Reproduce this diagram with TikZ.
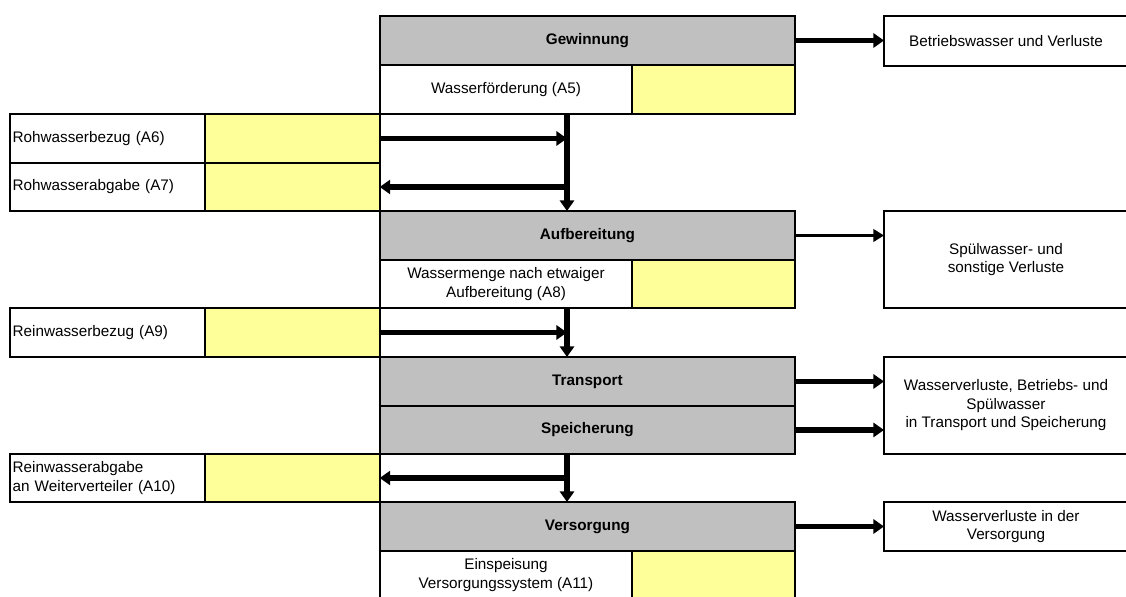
\documentclass[tikz,border=0pt]{standalone}
\usepackage{fontspec}
\setmainfont{Liberation Sans}
\usepackage{tikz}
\usetikzlibrary{arrows.meta,positioning}
\usepackage{xcolor}
\definecolor{wgray}{RGB}{192,192,192}
\definecolor{wyellow}{RGB}{255,255,153}
\tikzstyle{cell} = [rectangle, draw, line width=1.3pt, inner sep=1.5pt, outer sep=0pt, anchor=north west, align=center, font=\fontsize{8.7}{10.5}\selectfont]
\tikzstyle{stage} = [cell, fill=wgray, minimum width=8.3cm, minimum height=0.98cm, font=\fontsize{8.7}{10.5}\selectfont\bfseries]
\tikzstyle{value} = [cell, fill=wyellow]
\tikzstyle{sidebox} = [cell, align=left, text width=3.79cm]
\tikzstyle{lossbox} = [cell, minimum width=4.88cm]
\tikzstyle{flow} = [line width=3.2pt, -{Triangle[length=6pt,width=8pt]}]
\tikzstyle{thinflow} = [line width=2pt, -{Triangle[length=6pt,width=7pt]}]

\begin{document}
\begin{tikzpicture}[x=0.02cm, y=-0.02cm]
\useasboundingbox (0,0) rectangle (1126,597);
% Stages
\node (gew) [stage] at (380,16) {Gewinnung};
\node (foerd) [cell, minimum width=5.04cm, minimum height=0.98cm, below right=0pt of gew.south west] {Wasserförderung (A5)};
\node (foerdval) [value, minimum width=3.26cm, minimum height=0.98cm, right=0pt of foerd] {};

\node (aufb) [stage] at (380,211) {Aufbereitung};
\node (menge) [cell, minimum width=5.04cm, minimum height=0.96cm, below right=0pt of aufb.south west] {Wassermenge nach etwaiger\\Aufbereitung (A8)};
\node (mengeval) [value, minimum width=3.26cm, minimum height=0.96cm, right=0pt of menge] {};

\node (trans) [stage] at (380,357) {Transport};
\node (speich) [stage, minimum height=0.96cm, below right=0pt of trans.south west] {Speicherung};

\node (vers) [stage] at (380,502) {Versorgung};
\node (einsp) [cell, minimum width=5.04cm, minimum height=0.96cm, below right=0pt of vers.south west] {Einspeisung\\Versorgungssystem (A11)};
\node (einspval) [value, minimum width=3.26cm, minimum height=0.96cm, right=0pt of einsp] {};

% Bezug und Abgabe
\node (bezA6) [sidebox, minimum height=0.98cm] at (10,114) {Rohwasserbezug (A6)};
\node (bezA6val) [value, minimum width=3.5cm, minimum height=0.98cm, right=0pt of bezA6] {};
\node (abgA7) [sidebox, minimum height=0.96cm, below right=0pt of bezA6.south west] {Rohwasserabgabe (A7)};
\node (abgA7val) [value, minimum width=3.5cm, minimum height=0.96cm, right=0pt of abgA7] {};
\node (bezA9) [sidebox, minimum height=0.98cm] at (10,308) {Reinwasserbezug (A9)};
\node (bezA9val) [value, minimum width=3.5cm, minimum height=0.98cm, right=0pt of bezA9] {};
\node (abgA10) [sidebox, minimum height=0.96cm] at (10,454) {Reinwasserabgabe\\an Weiterverteiler (A10)};
\node (abgA10val) [value, minimum width=3.5cm, minimum height=0.96cm, right=0pt of abgA10] {};

% Verluste
\node (betr) [lossbox, minimum height=1.0cm] at (884,16) {Betriebswasser und Verluste};
\node (spuel) [lossbox, minimum height=1.94cm] at (884,211) {Spülwasser- und\\sonstige Verluste};
\node (wvtrans) [lossbox, minimum height=1.94cm] at (884,357) {Wasserverluste, Betriebs- und\\Spülwasser\\in Transport und Speicherung};
\node (wvvers) [lossbox, minimum height=0.98cm] at (884,502) {Wasserverluste in der\\Versorgung};

\coordinate (trunk) at (567,0);

% Hauptstrom
\draw[flow] (foerd.south -| trunk) -- (aufb.north -| trunk);
\draw[flow] (menge.south -| trunk) -- (trans.north -| trunk);
\draw[flow] (speich.south -| trunk) -- (vers.north -| trunk);

\draw[flow] (bezA6val.east) -- (bezA6val.east -| trunk);
\draw[flow] (trunk |- abgA7val.east) -- (abgA7val.east);
\draw[flow] (bezA9val.east) -- (bezA9val.east -| trunk);
\draw[flow] (trunk |- abgA10val.east) -- (abgA10val.east);

% Verluste
\draw[flow] (gew.east) -- (gew.east -| betr.west);
\draw[thinflow] (aufb.east) -- (aufb.east -| spuel.west);
\draw[flow] (trans.east) -- (trans.east -| wvtrans.west);
\draw[flow] (speich.east) -- (speich.east -| wvtrans.west);
\draw[flow] (vers.east) -- (vers.east -| wvvers.west);
\end{tikzpicture}
\end{document}
